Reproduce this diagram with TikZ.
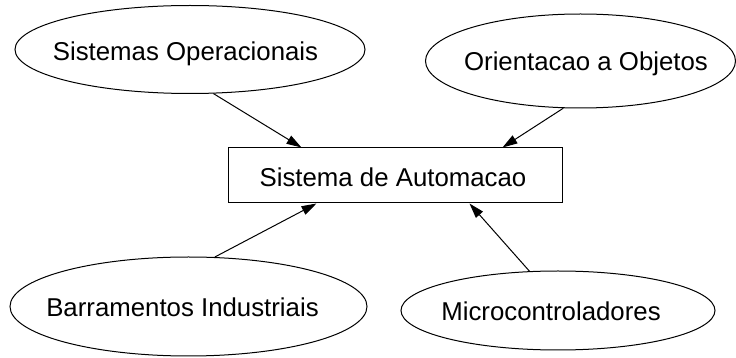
\documentclass[tikz,border=0pt]{standalone}
\usepackage{fontspec}
\setmainfont{Liberation Sans}
\usetikzlibrary{shapes.geometric,arrows.meta,calc}
\begin{document}
\begin{tikzpicture}[x=0.5pt,y=-0.5pt,
  txt/.style={inner sep=0pt,text height=9.25pt,text depth=0pt,font=\fontsize{12.9pt}{15pt}\selectfont},
  topic/.style={draw,ellipse,inner sep=0pt,line width=0.5pt},
  hub/.style={draw,rectangle,inner sep=0pt,line width=0.5pt},
  link/.style={line width=0.5pt,-{Triangle[length=7.5pt,width=4.6pt]}}]
\useasboundingbox (0,0) rectangle (736,358);
% central system: outline and caption placed separately
\node[hub,minimum width=167pt,minimum height=27.5pt] (r) at (396,175.5) {};
\node[txt] (r-t) at (393,177.5) {Sistema de Automacao};
% contributing topics: the outline is sized on its own, the text sits near its centre
\node[topic,minimum width=175pt,minimum height=44pt] (so) at (190,49.5) {};
\node[txt] (so-t) at (185.5,51.7) {Sistemas Operacionais};
\node[topic,minimum width=155pt,minimum height=47pt] (oo) at (580.5,61) {};
\node[txt] (oo-t) at (586,61.7) {Orientacao a Objetos};
\node[topic,minimum width=178.5pt,minimum height=49.5pt] (bi) at (188.5,306.5) {};
\node[txt] (bi-t) at (182.5,307.5) {Barramentos Industriais};
\node[topic,minimum width=157pt,minimum height=39.5pt] (mc) at (558,310.5) {};
\node[txt] (mc-t) at (551,311.7) {Microcontroladores};
% connectors into the system box
\draw[link] (so.-62.4) -- ($(r.north west)+(73,0)$);
\draw[link] (oo.-110) -- ($(r.north west)+(274,0)$);
\draw[link] (bi.62) -- ($(r.south west)+(88,0)$);
\draw[link] (mc.126) -- ($(r.south west)+(241,0)$);
\end{tikzpicture}
\end{document}
